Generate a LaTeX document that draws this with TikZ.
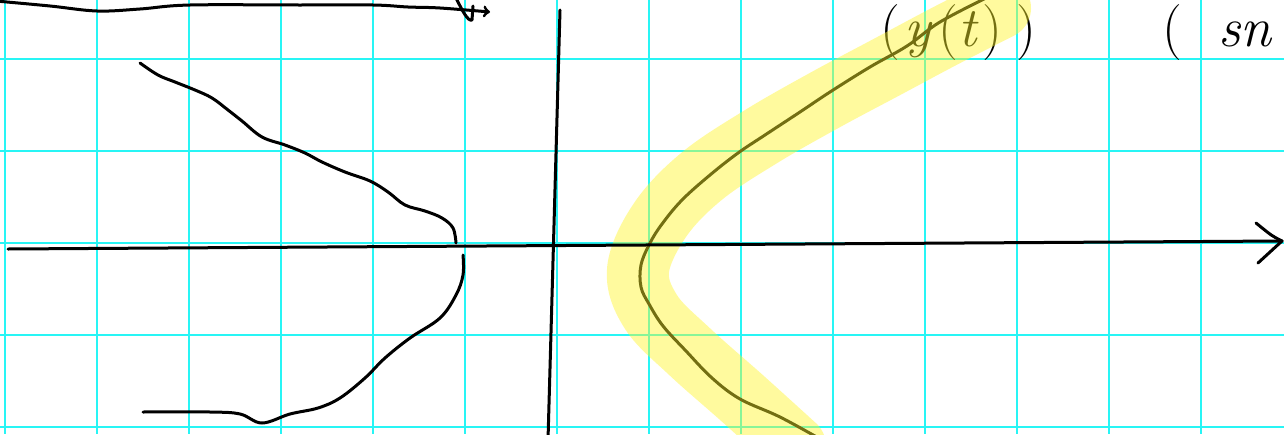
\documentclass[tikz,border=0pt]{standalone}
\usetikzlibrary{arrows}
\definecolor{gridcyan}{RGB}{40,245,245}
\definecolor{marker}{RGB}{255,246,40}

\begin{document}
\begin{tikzpicture}[x=1pt,y=-1pt,
  pen/.style={line width=3pt,line cap=round,line join=round},
  rule/.style={draw=gridcyan,line width=2pt},
  hilite/.style={line width=62pt,line cap=round,line join=round,draw=marker,draw opacity=0.45},
  hand/.style={inner sep=0pt,font=\fontsize{56}{56}\selectfont}]
\useasboundingbox (0,0) rectangle (1284,434);
\fill[white] (0,0) rectangle (1284,434);
\foreach \x in {5,97,...,1201} \draw[rule] (\x,0) -- (\x,434);
\foreach \y in {59,151,...,427} \draw[rule] (0,\y) -- (1284,\y);
\coordinate (xs) at (8,249);
\coordinate (xe) at (1282,241);
\coordinate (ys) at (560,10);
\coordinate (ye) at (548,440);
\coordinate (ts) at (-4,1);
\coordinate (te) at (490,12);
\coordinate (ca) at (990,-4);
\coordinate (cb) at (822,440);
\draw[pen] plot[smooth,tension=0.6] coordinates {(ca) (940,22) (907,46) (870,67) (830,92) (800,112)
  (765,135) (738,153) (710,175) (682,200) (662,224) (650,243) (641,265) (641,287) (649,304)
  (663,326) (686,351) (712,378) (740,399) (780,417) (cb)};
\node[hand,anchor=base west] (yt) at (880,46) {(\hspace{4pt}\textit{y}\hspace{6pt}(\textit{t}\hspace{4pt})\hspace{14pt})};
\draw[hilite] plot[smooth,tension=0.6] coordinates {(1000,8) (945,36) (885,68) (825,100)
  (762,136) (702,176) (660,220) (638,270) (651,312) (690,352) (742,398) (795,446)};
\node[hand,anchor=base west] (lp) at (1162,46) {(};
\node[hand,anchor=base west] (sn) at (1218,46) {\textit{sn}};
\draw[pen] (xs) -- (xe);
\draw[pen] (1256,223) .. controls (1272,236) .. (xe) .. controls (1270,252) .. (1258,263);
\draw[pen] (ys) -- (ye);
\draw[pen,->] plot[smooth,tension=0.6] coordinates {(ts) (50,6) (97,11) (140,9) (190,5)
  (300,5) (373,5) (408,7) (440,8) (te)};
\draw[pen] (456,-2) .. controls (462,10) and (468,22) .. (472,20) -- (473,6);
\draw[pen] plot[smooth,tension=0.6] coordinates {(140,63) (158,75) (175,82) (195,90) (212,98)
  (228,110) (242,121) (262,137) (285,145) (305,153) (322,162) (345,172) (370,181)
  (388,192) (405,205) (425,211) (442,218) (453,228) (456,243)};
\draw[pen] plot[smooth,tension=0.6] coordinates {(463,255) (463,275) (456,295) (440,318)
  (410,338) (385,358) (365,378) (340,398) (318,408) (290,414) (262,423) (240,414)
  (210,412) (143,412)};
\end{tikzpicture}
\end{document}
